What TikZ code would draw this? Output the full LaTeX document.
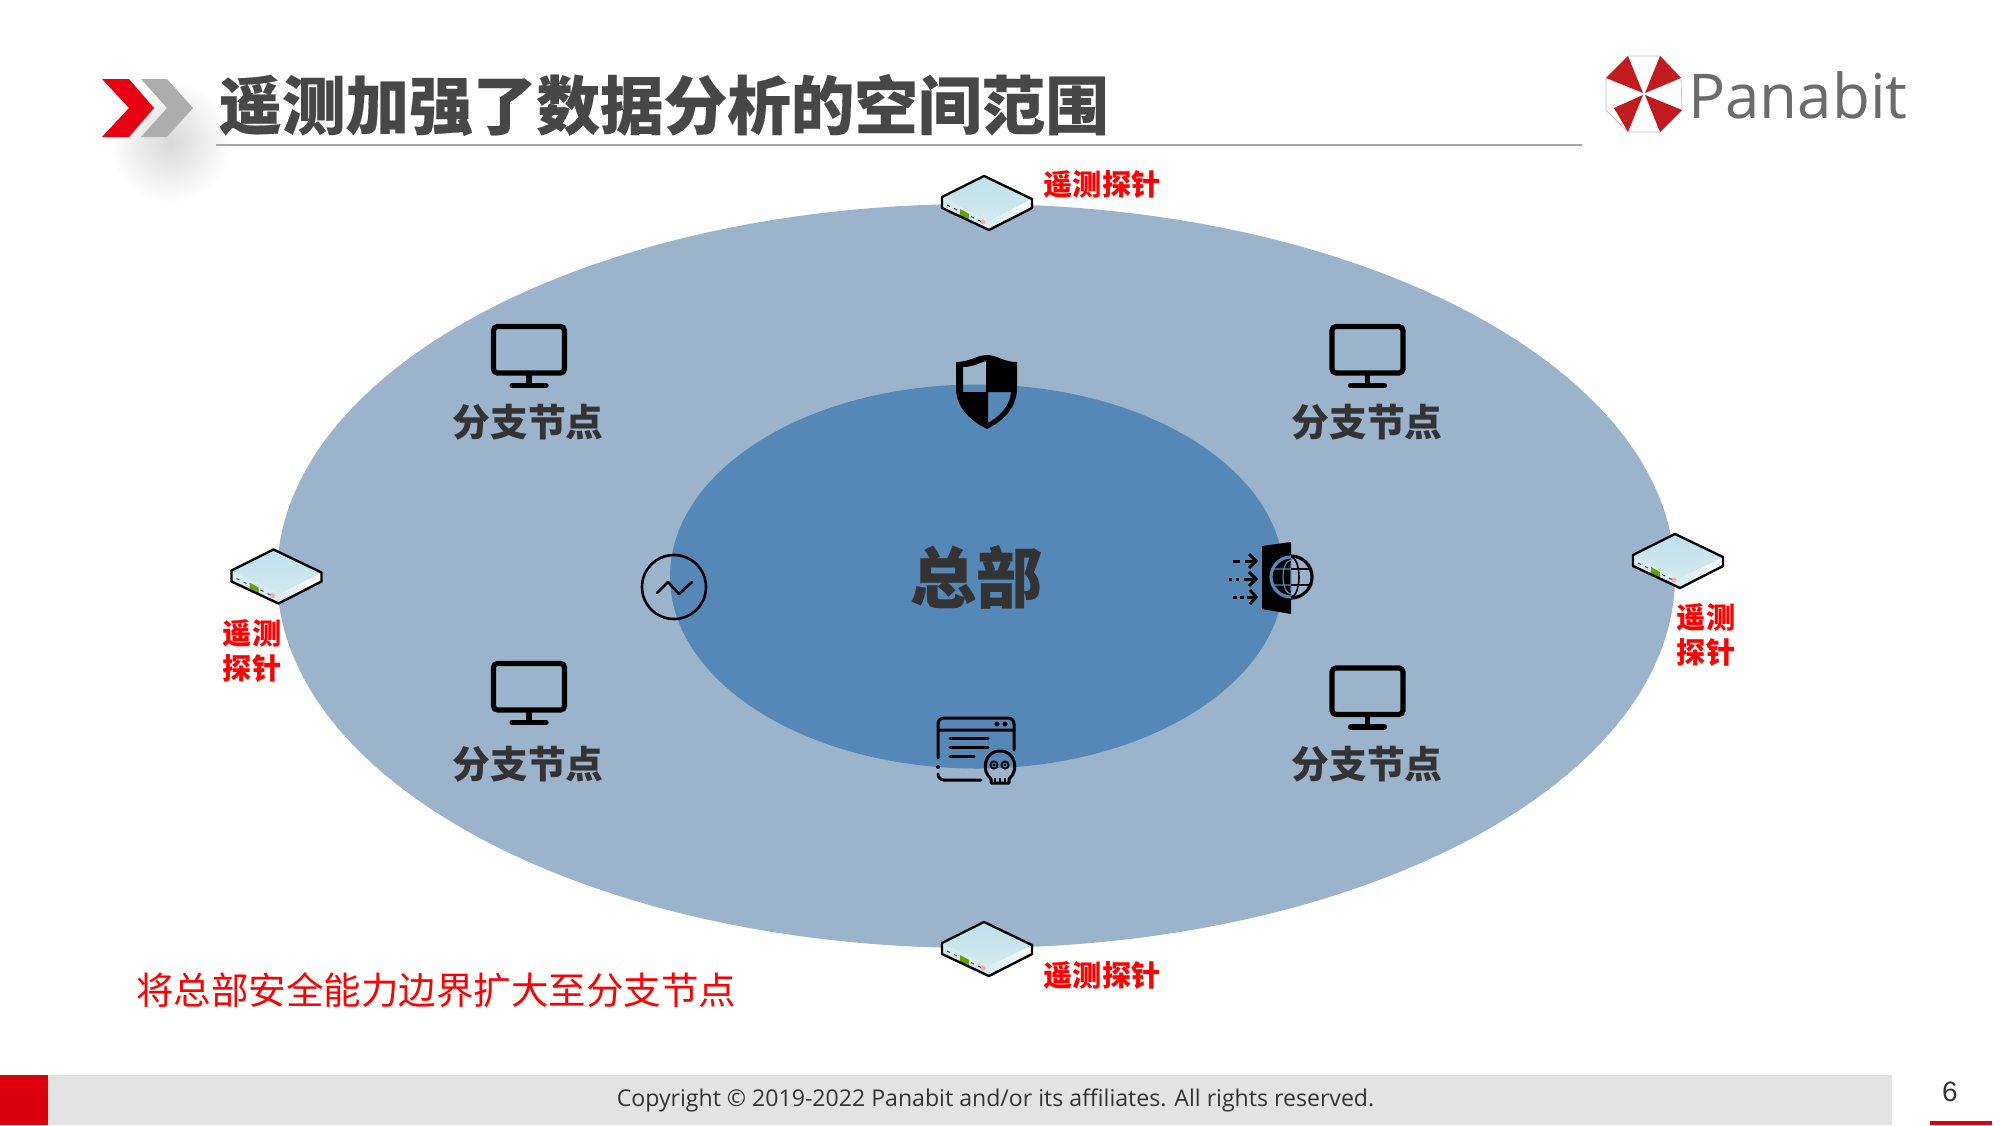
\documentclass[tikz,border=0pt]{standalone}
\usepackage{fontspec}
\setmainfont{Open Sans}
\newfontfamily\cjk{Noto Sans CJK SC}
\newfontfamily\cjkheavy{Noto Sans CJK SC}[BoldFeatures={FakeBold=0.3}]
\newfontfamily\digitfont{Liberation Sans}
\definecolor{outerblue}{HTML}{9CB3CC}
\definecolor{innerblue}{HTML}{5587B7}
\definecolor{panared}{HTML}{E60012}
\definecolor{footred}{HTML}{DC000F}
\definecolor{logored}{HTML}{C21A1F}
\definecolor{inktext}{HTML}{333333}
\definecolor{probetop}{HTML}{BFE0EA}
\definecolor{probefront}{HTML}{D6ECF2}
\tikzset{
  titletext/.style={inner sep=0,text=black!72,font=\cjkheavy\bfseries\fontsize{31.8}{36}\selectfont},
  branchtext/.style={inner sep=0,text=inktext,font=\cjk\bfseries\fontsize{18.9}{22}\selectfont},
  hqtext/.style={inner sep=0,text=inktext,font=\cjkheavy\bfseries\fontsize{33}{38}\selectfont},
  probetext/.style={inner sep=0,text=red,align=center,font=\cjk\bfseries\fontsize{14.6}{17.5}\selectfont},
  iconline/.style={line width=1.3pt,line cap=round,line join=round},
  probe/.pic={
    \fill[probefront] (-44,-6) -- (3,17) -- (3,27) -- (-44,5) -- cycle;
    \shade[left color=probefront,right color=white] (3,17) -- (46,-4) -- (46,5) -- (3,27) -- cycle;
    \shade[top color=probetop,bottom color=probetop!70!white] (-2,-27) -- (46,-4) -- (3,17) -- (-44,-6) -- cycle;
    \fill[green!40!black!60!yellow] (-26,6) -- (-17,11) -- (-17,17) -- (-26,12) -- cycle;
    \fill[red!35] (-3,19) circle (2.5);
    \draw[line width=0.5pt,black!70] (-39,2) -- (-36,3.5) (-32,5.5) -- (-29,7) (-15,13.5) -- (-12,15) (-8,17) -- (-5,18.5);
    \draw[line width=1.2pt,line join=round] (-2,-27) -- (46,-4) -- (46,5) -- (3,27) -- (-44,5) -- (-44,-6) -- cycle;
  },
  monitor/.pic={
    \draw[line width=2.6pt,rounded corners=2pt] (-35.5,-23) rectangle (35.5,23.5);
    \draw[line width=2.6pt] (0,25) -- (0,34);
    \draw[line width=2.6pt,line cap=round] (-17,36) -- (17,36);
  }
}
\begin{document}
\begin{tikzpicture}[x=0.5pt,y=-0.5pt]
  \useasboundingbox (0,0) rectangle (2000,1125);
  % header
  \shade[inner color=black!15,outer color=white] (170,142) circle (62);
  \fill[panared] (102,79) -- (129,79) -- (154,108) -- (129,137) -- (102,137) -- (129,108) -- cycle;
  \fill[black!32] (141,79) -- (167,79) -- (193,108) -- (167,137) -- (141,137) -- (167,108) -- cycle;
  \node[titletext,anchor=west] (title) at (218,105) {遥测加强了数据分析的空间范围};
  \draw[black!35,line width=1pt] (216,144.5) -- (1582,144.5);
  % logo
  \draw[black!25,line width=0.4pt] (1628,56) -- (1660,56) -- (1681,78) -- (1682,110) -- (1660,132) -- (1628,132) -- (1606,110) -- (1606,78) -- cycle;
  \fill[logored] (1643,93) -- (1628,56) -- (1606,78) -- cycle
                 (1645,93) -- (1660,56) -- (1681,78) -- cycle
                 (1645,95) -- (1682,110) -- (1660,132) -- cycle
                 (1643,95) -- (1628,132) -- (1614,108) -- cycle;
  \node[anchor=base west,inner sep=0,text=black!58,font=\fontsize{30.9}{36}\selectfont] (brand) at (1688,118) {Panabit};
  % rings
  \fill[outerblue] (976,576) ellipse (699 and 372);
  \fill[innerblue] (977,576.5) ellipse (307 and 192);
  \node[hqtext] (hq) at (976,577) {总部};
  % probes
  \pic (probeTop) at (986,203) {probe};
  \pic (probeLeft) at (275.5,576.5) {probe};
  \pic (probeRight) at (1677,561) {probe};
  \pic (probeBottom) at (986,949) {probe};
  \node[probetext] (labelTop) at (1102,184.5) {遥测探针};
  \node[probetext] (labelBottom) at (1102,976) {遥测探针};
  \node[probetext] (labelLeft) at (252,651) {遥测\\探针};
  \node[probetext] (labelRight) at (1706,635) {遥测\\探针};
  % branches
  \pic (monitorA) at (529,349.5) {monitor};
  \pic (monitorB) at (1367.5,349.5) {monitor};
  \pic (monitorC) at (529,686.5) {monitor};
  \pic (monitorD) at (1367.5,691) {monitor};
  \node[branchtext] (branchA) at (528,422) {分支节点};
  \node[branchtext] (branchB) at (1367,422) {分支节点};
  \node[branchtext] (branchC) at (528,764) {分支节点};
  \node[branchtext] (branchD) at (1367,764) {分支节点};
  % shield
  \fill[black,even odd rule] (987,355) .. controls (997,355) and (1003,362) .. (1017,362) -- (1017,388)
     .. controls (1017,408) and (1003,421) .. (987,429) .. controls (971,421) and (956,408) .. (956,388) -- (956,362)
     .. controls (970,362) and (977,355) .. (987,355) -- cycle
     (963,367) .. controls (973,367) and (979,363) .. (986,361) -- (986,392) -- (963,392) -- cycle
     (988,392) -- (1011,392) .. controls (1010,406) and (1000,416) .. (988,423) -- cycle;
  % pulse
  \draw[iconline] (674,587) circle (32);
  \draw[iconline] (657,593) -- (668,582) -- (679,594) -- (692,582);
  % gateway
  \fill[black] (1262,546) -- (1291,542) -- (1291,614) -- (1262,609) -- cycle;
  \begin{scope}
    \clip (1200,540) rectangle (1291,620);
    \draw[innerblue,line width=1.6pt] (1291,577) circle (20);
    \draw[innerblue,line width=0.6pt] (1291,577) circle (8 and 17) (1291,563) -- (1291,591) (1273,569) -- (1291,569) (1273,585) -- (1291,585);
  \end{scope}
  \begin{scope}
    \clip (1291,540) rectangle (1330,620);
    \draw[line width=1.6pt] (1291,577) circle (21);
    \draw[line width=0.8pt] (1291,577) circle (8 and 20) (1291,569) -- (1312,569) (1291,585) -- (1312,585);
  \end{scope}
  \draw[line width=1.5pt,line cap=butt] (1233,561) -- (1240,561) (1245,561) -- (1255,561)
     (1229,579) -- (1232,579) (1236,579) -- (1239,579) (1244,579) -- (1255,579)
     (1233,597) -- (1237,597) (1240,597) -- (1244,597) (1247,597) -- (1255,597);
  \draw[line width=1.5pt,line join=miter] (1249,554) -- (1256,561) -- (1249,568)
     (1249,572) -- (1256,579) -- (1249,586) (1250,590) -- (1256,597) -- (1250,604);
  % window and skull
  \draw[iconline,line width=1.5pt] (938,758) -- (938,724) arc (180:270:6) -- (1008,718) arc (270:360:6) -- (1014,750)
     (938,730) -- (1014,730) (938,774) arc (180:90:6) -- (981,780);
  \fill (938,767) circle (2);
  \fill (997,724) circle (2.5) (1005,724) circle (2.5);
  \draw[iconline,line width=1.5pt] (950,738) -- (988,738) (950,747) -- (988,747) (950,756) -- (974,756);
  \draw[iconline,line width=1.5pt] (991,779) .. controls (981,771) and (984,751) .. (1000,751)
     .. controls (1016,751) and (1019,771) .. (1009,779) -- (1009,783) -- (991,783) -- cycle;
  \draw[line width=0.9pt] (994,765) circle (3.6) (1005,765) circle (3.6);
  \fill (994,765) circle (1.6) (1005,765) circle (1.6);
  \draw[line width=0.7pt] (995,778) -- (995,783) (1000,778) -- (1000,783) (1005,778) -- (1005,783);
  % bottom note
  \node[inner sep=0,anchor=west,text=red,font=\cjk\fontsize{18.75}{22}\selectfont] (note) at (136,990.5) {将总部安全能力边界扩大至分支节点};
  % footer
  \fill[footred] (0,1075) rectangle (48,1125);
  \fill[black!11] (48,1075) rectangle (1892,1125);
  \node[inner sep=0,text=inktext,font=\fontsize{11.55}{14}\selectfont] (copyright) at (995.5,1100.5) {Copyright © 2019-2022 Panabit and/or its affiliates. All rights reserved.};
  \node[inner sep=0,text=inktext,font=\digitfont\fontsize{14}{16}\selectfont] (pagenum) at (1950,1092) {6};
  \fill[footred] (1930,1121) rectangle (1992,1125);
\end{tikzpicture}
\end{document}
